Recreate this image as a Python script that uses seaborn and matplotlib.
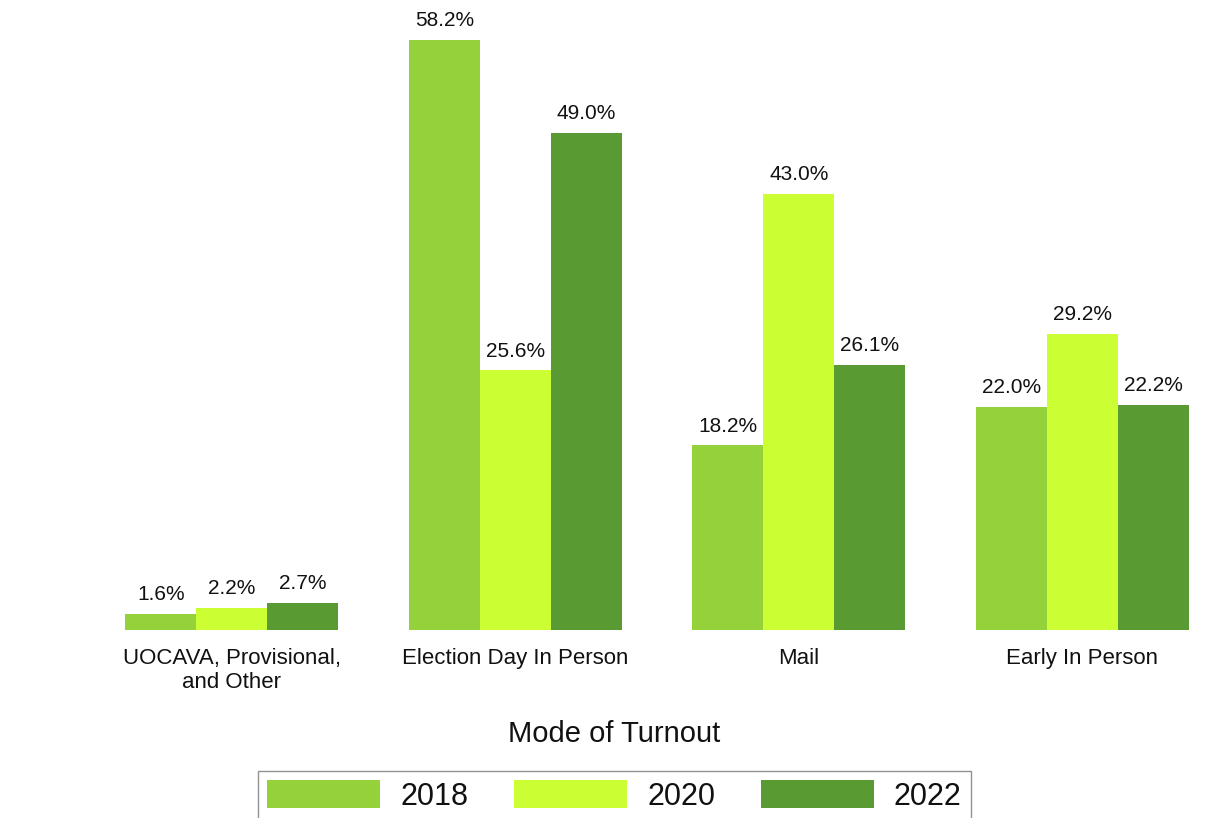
import matplotlib
matplotlib.use("Agg")
import matplotlib.pyplot as plt
import pandas as pd
import seaborn as sns

# Mode of turnout, share of all ballots cast (%)
modes = [
    "UOCAVA, Provisional,\nand Other",
    "Election Day In Person",
    "Mail",
    "Early In Person",
]
years = ["2018", "2020", "2022"]
share_2018 = [1.6, 58.2, 18.2, 22.0]
share_2020 = [2.2, 25.6, 43.0, 29.2]
share_2022 = [2.7, 49.0, 26.1, 22.2]
year_colors = ["#95d13b", "#ccff33", "#5a9a32"]

df = pd.DataFrame({
    "mode": modes * 3,
    "year": [y for y in years for _ in modes],
    "share": share_2018 + share_2020 + share_2022,
})

sns.set_theme(style="white")
plt.rcParams["font.family"] = ["Liberation Sans", "DejaVu Sans"]

fig = plt.figure(figsize=(12.29, 8.18), dpi=100)
ax = fig.add_axes([0.0732, 0.2298, 0.9227, 0.7653])

sns.barplot(
    data=df, x="mode", y="share", hue="year", order=modes, hue_order=years,
    palette=dict(zip(years, year_colors)), saturation=1, width=0.75,
    linewidth=0, errorbar=None, ax=ax,
)
for cont in ax.containers:
    ax.bar_label(cont, fmt="%.1f%%", padding=7, fontsize=15, color="#111111")

ax.set_ylim(0, 61.7)
ax.set_xlim(-0.5, 3.5)
ax.set_xlabel("")
ax.set_ylabel("")
ax.set_yticks([])
ax.tick_params(axis="x", length=0, pad=13, labelsize=16, colors="#111111")
sns.despine(ax=ax, left=True, bottom=True)

handles, labels = ax.get_legend_handles_labels()
ax.get_legend().remove()
fig.text(0.5, 1 - 734 / 818, "Mode of Turnout", ha="center", va="center",
         fontsize=21, color="#111111")
fig.legend(
    handles, labels, loc="upper center", bbox_to_anchor=(0.5, 1 - 756 / 818),
    ncol=3, fontsize=22, frameon=True, fancybox=False, edgecolor="#777777",
    handlelength=3.7, handleheight=1.0, handletextpad=0.65,
    columnspacing=1.5, borderpad=0.3, labelcolor="#111111",
)

fig.savefig("out.png", dpi=100, facecolor="white")
